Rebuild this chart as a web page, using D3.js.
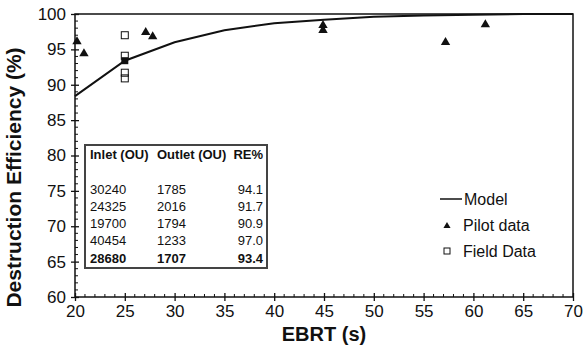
<!DOCTYPE html>
<html>
<head>
<meta charset="utf-8">
<script src="https://cdn.jsdelivr.net/npm/d3@7"></script>
<style>
  body { margin: 0; background: #fff; }
  svg text { font-family: "Liberation Sans", Arial, sans-serif; fill: #111; }
</style>
</head>
<body>
<div id="graph"></div>
<script>
// model curve
var modelX = [20, 25, 30, 35, 40, 45, 50, 55, 60, 65, 70];
var modelY = [88.4, 93.4, 96.0, 97.7, 98.7, 99.2, 99.6, 99.8, 99.9, 100, 100];

// pilot data (triangles)
var pilotX = [20.2, 20.9, 27.1, 27.8, 44.9, 44.9, 57.2, 61.2];
var pilotY = [96.1, 94.4, 97.4, 96.8, 98.4, 97.7, 96.0, 98.5];

// field data (squares), all at EBRT 25 s
var fieldX = [25, 25, 25, 25];
var fieldY = [94.1, 91.7, 90.9, 97.0];
var fieldAvg = 93.4;

// table inset
var tableHead = ['Inlet (OU)', 'Outlet (OU)', 'RE%'];
var inlet = ['30240', '24325', '19700', '40454', '28680'];
var outlet = ['1785', '2016', '1794', '1233', '1707'];
var reVals = ['94.1', '91.7', '90.9', '97.0', '93.4'];

var legendNames = ['Model', 'Pilot data', 'Field Data'];

var xTicks = d3.range(20, 71, 5);
var yTicks = d3.range(60, 101, 5);

// plot area
var margin = {top: 14, right: 12, bottom: 57, left: 75};
var W = 585, H = 354;
var width = W - margin.left - margin.right;
var height = H - margin.top - margin.bottom;

var x = d3.scaleLinear().domain([20, 70]).range([0, width]);
var y = d3.scaleLinear().domain([60, 100]).range([height, 0]);

var svg = d3.select('#graph').append('svg')
    .attr('width', W)
    .attr('height', H)
  .append('g')
    .attr('transform', 'translate(' + margin.left + ',' + margin.top + ')');

// frame
svg.append('rect')
  .attr('width', width).attr('height', height)
  .attr('fill', 'none').attr('stroke', '#111').attr('stroke-width', 1.5);

// minor ticks
svg.append('g').selectAll('line')
  .data(d3.range(21, 70).filter(function(v) { return v % 5 !== 0; }))
  .enter().append('line')
    .attr('x1', function(d) { return x(d); }).attr('x2', function(d) { return x(d); })
    .attr('y1', height).attr('y2', height - 3)
    .attr('stroke', '#111');
svg.append('g').selectAll('line')
  .data(d3.range(61, 100).filter(function(v) { return v % 5 !== 0; }))
  .enter().append('line')
    .attr('y1', function(d) { return y(d); }).attr('y2', function(d) { return y(d); })
    .attr('x1', 0).attr('x2', 3)
    .attr('stroke', '#111');

// x axis
var xAxis = svg.append('g')
  .attr('transform', 'translate(0,' + height + ')')
  .call(d3.axisBottom(x).tickValues(xTicks).tickSize(4).tickPadding(4));
xAxis.select('.domain').remove();
xAxis.selectAll('.tick line').attr('y1', -4).attr('stroke', '#111').attr('stroke-width', 1.3);
xAxis.selectAll('.tick text').attr('font-size', 17).attr('fill', '#111');

// y axis
var yAxis = svg.append('g')
  .call(d3.axisLeft(y).tickValues(yTicks).tickSize(4).tickPadding(5));
yAxis.select('.domain').remove();
yAxis.selectAll('.tick line').attr('x1', 4).attr('stroke', '#111').attr('stroke-width', 1.3);
yAxis.selectAll('.tick text').attr('font-size', 17).attr('fill', '#111');

// axis titles
svg.append('text')
  .attr('x', width / 2).attr('y', height + 44)
  .attr('text-anchor', 'middle')
  .attr('font-size', 20).attr('font-weight', 'bold')
  .text('EBRT (s)');
svg.append('text')
  .attr('transform', 'translate(' + (-54) + ',' + (height / 2 + 22) + ') rotate(-90)')
  .attr('text-anchor', 'middle')
  .attr('font-size', 21).attr('font-weight', 'bold')
  .text('Destruction Efficiency (%)');

// model line
var line = d3.line()
  .x(function(d) { return x(d[0]); })
  .y(function(d) { return y(d[1]); });
svg.append('path')
  .datum(d3.zip(modelX, modelY))
  .attr('d', line)
  .attr('fill', 'none').attr('stroke', '#111').attr('stroke-width', 2);

var tri = d3.symbol().type(d3.symbolTriangle);

// pilot triangles
svg.append('g').selectAll('path')
  .data(d3.zip(pilotX, pilotY))
  .enter().append('path')
    .attr('d', tri.size(38)())
    .attr('transform', function(d) { return 'translate(' + x(d[0]) + ',' + y(d[1]) + ')'; })
    .attr('fill', '#111');

// field squares
svg.append('rect')
  .attr('x', x(25) - 3.5).attr('y', y(fieldAvg) - 3.5)
  .attr('width', 7).attr('height', 7)
  .attr('fill', '#111');
svg.append('g').selectAll('rect')
  .data(d3.zip(fieldX, fieldY))
  .enter().append('rect')
    .attr('x', function(d) { return x(d[0]) - 3.5; })
    .attr('y', function(d) { return y(d[1]) - 3.5; })
    .attr('width', 7).attr('height', 7)
    .attr('fill', 'none').attr('stroke', '#111').attr('stroke-width', 1);

// table inset (placed in page coords)
var tbl = d3.select('svg').append('g');
tbl.append('rect')
  .attr('x', 85).attr('y', 145).attr('width', 182).attr('height', 123)
  .attr('fill', '#fff').attr('stroke', '#444').attr('stroke-width', 2);
var colX = [90, 157, 263];
var colAnchor = ['start', 'start', 'end'];
tableHead.forEach(function(h, i) {
  tbl.append('text')
    .attr('x', colX[i]).attr('y', 159)
    .attr('text-anchor', colAnchor[i])
    .attr('font-size', 13).attr('font-weight', 'bold')
    .text(h);
});
var rowY = d3.range(inlet.length).map(function(i) { return 193.5 + i * 17.3; });
[inlet, outlet, reVals].forEach(function(col, c) {
  col.forEach(function(v, i) {
    tbl.append('text')
      .attr('x', colX[c]).attr('y', rowY[i])
      .attr('text-anchor', colAnchor[c])
      .attr('font-size', 13)
      .attr('font-weight', i === col.length - 1 ? 'bold' : 'normal')
      .text(v);
  });
});

// legend
var leg = d3.select('svg').append('g');
leg.append('line')
  .attr('x1', 440).attr('x2', 462).attr('y1', 199).attr('y2', 199)
  .attr('stroke', '#111').attr('stroke-width', 1.5);
leg.append('path')
  .attr('d', tri.size(22)())
  .attr('transform', 'translate(447,226)')
  .attr('fill', '#111');
leg.append('rect')
  .attr('x', 444).attr('y', 248).attr('width', 6).attr('height', 6)
  .attr('fill', 'none').attr('stroke', '#111');
legendNames.forEach(function(n, i) {
  leg.append('text')
    .attr('x', i === 0 ? 464 : 463).attr('y', 199 + i * 26)
    .attr('dy', '0.35em')
    .attr('font-size', 16)
    .text(n);
});
</script>
</body>
</html>
